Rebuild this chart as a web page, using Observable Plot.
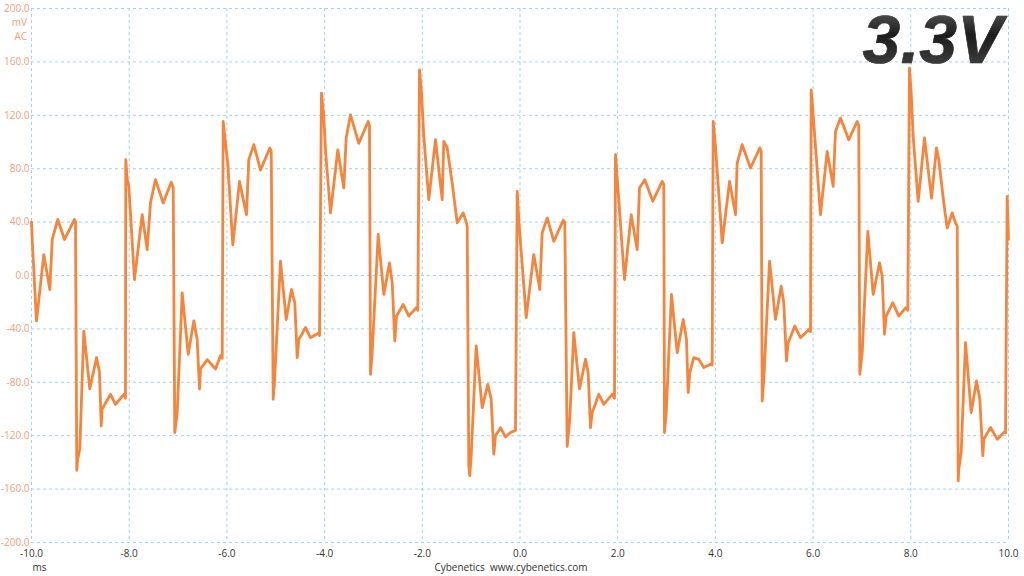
<!DOCTYPE html>
<html>
<head>
<meta charset="utf-8">
<script src="https://cdn.jsdelivr.net/npm/d3@7"></script>
<script src="https://cdn.jsdelivr.net/npm/@observablehq/plot@0.6"></script>
<style>
  html, body { margin: 0; padding: 0; background: #fff; }
  #chart { width: 1024px; height: 576px; overflow: hidden; }
</style>
</head>
<body>
<div id="chart"></div>
<script>
// Time (ms) of each read vertex of the ripple trace
const timeMs = [
  -10.000, -9.980, -9.898, -9.748, -9.625, -9.576, -9.462, -9.324, -9.120, -9.099,
  -9.073, -9.052, -9.011, -8.929, -8.807, -8.669, -8.608, -8.573, -8.553, -8.383, -8.280, -8.111, -8.076,
  -8.070, -8.041, -8.008, -7.892, -7.734, -7.632, -7.564, -7.462, -7.304, -7.140, -7.099,
  -7.067, -7.017, -6.915, -6.792, -6.678, -6.608, -6.561, -6.540, -6.403, -6.233, -6.131, -6.096,
  -6.076, -6.029, -5.982, -5.879, -5.742, -5.599, -5.552, -5.449, -5.312, -5.122, -5.093,
  -5.052, -5.026, -4.903, -4.786, -4.678, -4.610, -4.561, -4.528, -4.391, -4.289, -4.119, -4.104,
  -4.064, -4.016, -3.982, -3.879, -3.730, -3.607, -3.558, -3.470, -3.300, -3.108, -3.081,
  -3.060, -3.026, -2.903, -2.788, -2.671, -2.616, -2.563, -2.528, -2.391, -2.276, -2.119, -2.092,
  -2.057, -2.016, -1.969, -1.867, -1.730, -1.593, -1.560, -1.490, -1.388, -1.286, -1.163, -1.095, -1.081,
  -1.048, -1.028, -0.999, -0.897, -0.774, -0.659, -0.590, -0.536, -0.502, -0.399, -0.297, -0.195, -0.092,
  -0.057, -0.025, 0.127, 0.282, 0.405, 0.454, 0.557, 0.692, 0.884, 0.917,
  0.966, 1.019, 1.101, 1.218, 1.341, 1.396, 1.443, 1.478, 1.613, 1.715, 1.887, 1.934,
  1.955, 1.990, 2.139, 2.276, 2.399, 2.446, 2.555, 2.718, 2.911, 2.944,
  2.958, 2.993, 3.101, 3.218, 3.341, 3.408, 3.443, 3.476, 3.558, 3.660, 3.762, 3.900, 3.934,
  3.955, 4.002, 4.139, 4.289, 4.412, 4.446, 4.548, 4.718, 4.909, 4.937,
  4.958, 4.991, 5.108, 5.230, 5.347, 5.400, 5.455, 5.490, 5.625, 5.742, 5.912, 5.947,
  5.961, 6.002, 6.049, 6.151, 6.288, 6.411, 6.458, 6.560, 6.730, 6.902, 6.935,
  6.956, 7.005, 7.120, 7.230, 7.359, 7.414, 7.461, 7.496, 7.631, 7.754, 7.892, 7.939,
  7.973, 8.008, 8.049, 8.151, 8.280, 8.424, 8.526, 8.573, 8.675, 8.745, 8.847, 8.915, 8.950,
  8.970, 8.982, 9.031, 9.120, 9.236, 9.345, 9.413, 9.475, 9.495, 9.632, 9.769, 9.905, 9.939,
  9.973, 10.000
];
// Ripple voltage (mV, AC) at each vertex
const rippleMv = [
  40, 23, -34, 15.7, -10.5, 27, 42, 27, 42, 40,
  -146, -137, -130, -41.6, -85, -61.5, -72.5, -112.7, -100, -89, -96.5, -89, -92,
  86.7, 72, 67, -3, 45.6, 19.4, 54.5, 71.8, 54.3, 69.8, 66,
  -117.6, -102.6, -13, -59, -34, -48, -85, -70, -63, -70, -60, -62,
  115.4, 99, 84, 23, 70.5, 45.6, 86.7, 98, 79, 95.5, 93,
  -92.7, -80, 10.7, -33, -10.5, -20.4, -61.5, -48, -39, -46.6, -43, -45,
  136.6, 119, 94, 46.9, 94, 65.6, 103, 120.4, 99, 115.4, 112,
  -74, -57.8, 30.7, -14.2, 9.5, -5.5, -49, -30.4, -21.7, -30.4, -24, -26,
  154, 136.6, 104, 56.8, 101.7, 56.8, 100.4, 95.5, 69.3, 39.4, 46.9, 39.4, 37,
  -142.6, -150, -135, -52.8, -99, -81.5, -92.7, -133.8, -120, -114, -121, -117.6, -116,
  63, 41.9, -31.6, 15.7, -10.5, 31.9, 43.1, 25.6, 41.4, 40,
  -128, -107.7, -42.8, -85, -62.8, -72.8, -114, -102.7, -89, -96.5, -89, -92,
  90.5, 73, -3, 45.6, 19.4, 65.6, 71.8, 55.6, 70.5, 68,
  -117.6, -102.7, -14.2, -57.8, -32.9, -47.9, -87.7, -72.8, -61.5, -62.8, -69, -66.5, -67,
  115.4, 96.7, 24.4, 70.5, 45.6, 84.2, 98, 80.5, 95.5, 93,
  -94, -77.8, 10.7, -32.9, -8, -20.4, -64, -50.3, -37.9, -46.6, -40.4, -42,
  139, 120.4, 96.7, 45.6, 92.9, 66.8, 107.9, 117.9, 101.7, 115.4, 112,
  -74, -57.8, 33, -14.2, 9.5, -0.5, -44, -30.4, -20.4, -30.4, -24.2, -26,
  155.3, 136.6, 104, 55.6, 103, 58, 95.5, 86.7, 54.3, 35.6, 46.9, 39.4, 37,
  -153.8, -145, -132.6, -50.3, -102.7, -79, -92.7, -135, -122.6, -113.9, -122.6, -117.6, -118,
  59.3, 27
];
const xTicks = [-10, -8, -6, -4, -2, 0, 2, 4, 6, 8, 10];
const yTicks = [-200, -160, -120, -80, -40, 0, 40, 80, 120, 160, 200];
const railLabel = "3.3V";
const yUnitLines = ["mV", "AC"];
const xUnit = "ms";
const credit = "Cybenetics  www.cybenetics.com";

const trace = timeMs.map((t, i) => ({t, v: rippleMv[i]}));

const gridColor = "#a6d3e3";
const labelOrange = "#f0a07a";
const chart = Plot.plot({
  width: 1024,
  height: 576,
  marginLeft: 31,
  marginRight: 16,
  marginTop: 8,
  marginBottom: 34,
  style: {fontFamily: "'Open Sans', 'DejaVu Sans', sans-serif", fontSize: "10px", background: "#ffffff"},
  x: {domain: [-10, 10]},
  y: {domain: [-200, 200]},
  marks: [
    Plot.gridX(xTicks, {stroke: gridColor, strokeOpacity: 1, strokeDasharray: "3,3", strokeWidth: 1}),
    Plot.gridY(yTicks, {stroke: gridColor, strokeOpacity: 1, strokeDasharray: "3,3", strokeWidth: 1}),
    Plot.axisY(yTicks, {tickSize: 0, tickPadding: 2, tickFormat: d => d.toFixed(1), fill: labelOrange, label: null, fontSize: 10}),
    Plot.axisX(xTicks, {tickSize: 0, tickPadding: 7, tickFormat: d => d.toFixed(1), fill: "#333", label: null, fontSize: 10}),
    Plot.text([xUnit], {text: d => d, frameAnchor: "bottom-left", dx: 1, dy: 28, textAnchor: "start", fill: "#333", fontSize: 10}),
    Plot.text([credit], {text: d => d, frameAnchor: "bottom", dx: -9, dy: 28, fill: "#333", fontSize: 10}),
    Plot.line(trace, {x: "t", y: "v", stroke: "#f5843c", strokeWidth: 2.8, strokeLinejoin: "round"}),
    Plot.text([railLabel], {text: d => d, frameAnchor: "top-right", dx: -6, dy: 6, lineAnchor: "top", textAnchor: "end",
      fontSize: 68, fontWeight: "bold", fontStyle: "italic", fontFamily: "'Liberation Sans', Arial, sans-serif",
      fill: "url(#railGrad)", stroke: "#111", strokeWidth: 0.6})
  ]
});

document.getElementById("chart").appendChild(chart);
const svg = d3.select(chart.tagName.toLowerCase() === "svg" ? chart : chart.querySelector("svg"));

// gradient for the big rail label
const defs = svg.insert("defs", ":first-child");
const g = defs.append("linearGradient").attr("id", "railGrad").attr("x1", 0).attr("y1", 0).attr("x2", 0).attr("y2", 1);
g.append("stop").attr("offset", "0%").attr("stop-color", "#6a6a6a");
g.append("stop").attr("offset", "45%").attr("stop-color", "#1c1c1c");
g.append("stop").attr("offset", "100%").attr("stop-color", "#4a4a4a");

// unit lines stacked under the 200.0 label
svg.append("g")
  .attr("fill", labelOrange)
  .attr("font-size", 10)
  .attr("text-anchor", "end")
  .selectAll("text")
  .data(yUnitLines)
  .join("text")
  .attr("x", 27)
  .attr("y", (d, i) => 23 + i * 14)
  .attr("dy", "0.32em")
  .text(d => d);
</script>
</body>
</html>
